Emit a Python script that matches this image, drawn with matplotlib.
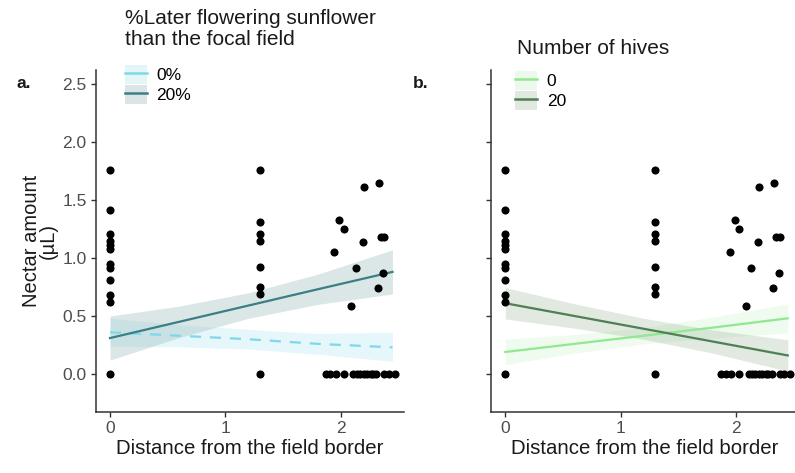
import matplotlib
matplotlib.use("Agg")
import matplotlib.pyplot as plt
from matplotlib.lines import Line2D
from matplotlib.patches import Patch

plt.rcParams['font.family'] = ['Liberation Sans', 'DejaVu Sans']

# observed nectar amounts (same points in both panels)
dist = [0, 0, 0, 0, 0, 0, 0, 0, 0, 0, 0, 0,
        1.3, 1.3, 1.3, 1.3, 1.3, 1.3, 1.3, 1.3,
        1.945, 1.99, 2.03, 2.09, 2.13, 2.19, 2.20, 2.32, 2.33, 2.35, 2.38, 2.37,
        1.87, 1.91, 1.96, 2.03, 2.11, 2.14, 2.17, 2.20, 2.23, 2.26, 2.28, 2.31,
        2.38, 2.42, 2.47]
nectar = [1.76, 1.41, 1.21, 1.15, 1.11, 1.08, 0.95, 0.91, 0.81, 0.68, 0.62, 0.0,
          1.76, 1.31, 1.21, 1.15, 0.92, 0.75, 0.69, 0.0,
          1.05, 1.33, 1.25, 0.59, 0.91, 1.14, 1.61, 0.74, 1.65, 1.18, 1.18, 0.87,
          0, 0, 0, 0, 0, 0, 0, 0, 0, 0, 0, 0,
          0, 0, 0]

# model fits read at a few distances
fit_x = [0, 0.6, 1.2, 1.8, 2.45]

late0_fit = [0.36, 0.33, 0.30, 0.26, 0.23]
late0_lo = [0.24, 0.235, 0.215, 0.17, 0.11]
late0_hi = [0.48, 0.425, 0.385, 0.35, 0.36]

late20_fit = [0.31, 0.45, 0.59, 0.73, 0.88]
late20_lo = [0.12, 0.315, 0.48, 0.60, 0.69]
late20_hi = [0.50, 0.585, 0.70, 0.86, 1.07]

hives0_fit = [0.19, 0.26, 0.33, 0.40, 0.48]
hives0_lo = [0.08, 0.18, 0.26, 0.31, 0.355]
hives0_hi = [0.30, 0.34, 0.40, 0.49, 0.605]

hives20_fit = [0.61, 0.50, 0.39, 0.28, 0.16]
hives20_lo = [0.475, 0.395, 0.30, 0.18, 0.025]
hives20_hi = [0.745, 0.605, 0.48, 0.38, 0.295]

fig = plt.figure(figsize=(7.95, 4.73), dpi=100)
axa = fig.add_axes([0.1204, 0.1283, 0.3878, 0.7237])
axb = fig.add_axes([0.6176, 0.1283, 0.3878, 0.7237])

def style(ax, ylabels=True):
    ax.set_xlim(-0.124, 2.55)
    ax.set_ylim(-0.33, 2.62)
    ax.set_xticks([0, 1, 2])
    ax.set_yticks([0, 0.5, 1.0, 1.5, 2.0, 2.5])
    if ylabels:
        ax.set_yticklabels(['0.0', '0.5', '1.0', '1.5', '2.0', '2.5'])
    else:
        ax.set_yticklabels([])
    for s in ['top', 'right']:
        ax.spines[s].set_visible(False)
    for s in ['left', 'bottom']:
        ax.spines[s].set_color('#333333')
        ax.spines[s].set_linewidth(1.1)
    ax.tick_params(length=3.5, width=1, color='#333333', labelcolor='#4d4d4d',
                   labelsize=12.5, pad=3)
    ax.set_xlabel('Distance from the field border', fontsize=14.7, color='#1a1a1a', labelpad=2)

# panel a
axa.fill_between(fit_x, late0_lo, late0_hi, color='#7fd8e8', alpha=0.2, lw=0)
axa.fill_between(fit_x, late20_lo, late20_hi, color='#9ab8bd', alpha=0.35, lw=0)
axa.plot(fit_x, late0_fit, color='#7fd8e8', lw=1.6, ls=(0, (5, 4)))
axa.plot(fit_x, late20_fit, color='#3a7f86', lw=1.6)
axa.scatter(dist, nectar, s=34, color='black', zorder=3, lw=0)
style(axa)
axa.set_ylabel('Nectar amount\n(µL)', fontsize=14.5, color='#1a1a1a', labelpad=3,
               linespacing=0.9)

# panel b
axb.fill_between(fit_x, hives0_lo, hives0_hi, color='#90e890', alpha=0.15, lw=0)
axb.fill_between(fit_x, hives20_lo, hives20_hi, color='#9db89a', alpha=0.3, lw=0)
axb.plot(fit_x, hives0_fit, color='#90e890', lw=1.6)
axb.plot(fit_x, hives20_fit, color='#4f7f55', lw=1.6)
axb.scatter(dist, nectar, s=34, color='black', zorder=3, lw=0)
style(axb, ylabels=False)

fig.text(0.021, 0.815, 'a.', fontsize=12.5, fontweight='bold', color='#1a1a1a')
fig.text(0.519, 0.815, 'b.', fontsize=12.5, fontweight='bold', color='#1a1a1a')

# legend titles
fig.text(0.157, 1 - 9 / 473, '%Later flowering sunflower\nthan the focal field',
         fontsize=15, color='#1a1a1a', va='top', ha='left', linespacing=1.12)
fig.text(0.650, 1 - 48 / 473, 'Number of hives',
         fontsize=15, color='#1a1a1a', va='center', ha='left')

# legends
kw = dict(loc='upper left', frameon=False, fontsize=12.5, handlelength=1.27,
          handleheight=1.27, handletextpad=0.55, labelspacing=0.1, borderpad=0,
          borderaxespad=0)
ha = [(Patch(facecolor='#e3f5f7', edgecolor='none'), Line2D([], [], color='#7fd8e8', lw=1.8)),
      (Patch(facecolor='#dbe5e7', edgecolor='none'), Line2D([], [], color='#3a7f86', lw=1.8))]
fig.legend(ha, ['0%', '20%'], bbox_to_anchor=(0.157, 1 - 65 / 473), **kw)
hb = [(Patch(facecolor='#edf8ec', edgecolor='none'), Line2D([], [], color='#90e890', lw=1.8)),
      (Patch(facecolor='#e0e8df', edgecolor='none'), Line2D([], [], color='#4f7f55', lw=1.8))]
fig.legend(hb, ['0', '20'], bbox_to_anchor=(0.648, 1 - 71 / 473), **kw)

fig.savefig('out.png', dpi=100)
